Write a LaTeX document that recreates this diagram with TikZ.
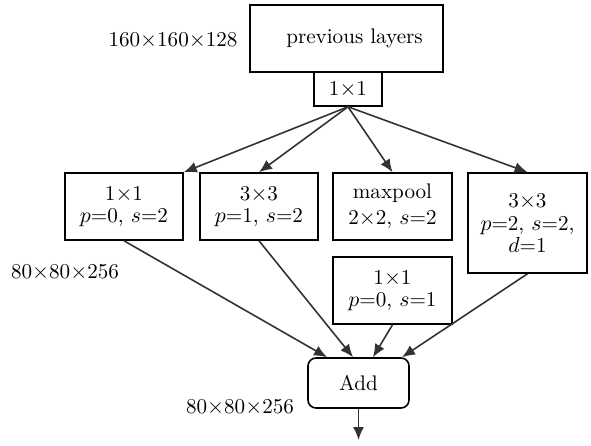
\documentclass[tikz,border=0pt]{standalone}
\usetikzlibrary{arrows.meta}

\tikzset{
  layer/.style={draw,line width=.8pt,align=center,inner sep=1pt,
    font=\fontsize{10.6}{11.2}\selectfont},
  flow/.style={-{Latex[length=6.5pt,width=5.5pt]},line width=.8pt,draw=black!80}
}

\begin{document}
\begin{tikzpicture}[x=0.5bp,y=-0.5bp]
\useasboundingbox (0,0) rectangle (591,446);
\node[layer,minimum width=96.5bp,minimum height=33.5bp] (prev) at (346.5,38.5) {\hspace*{8bp}previous layers};
\node[layer,minimum width=34bp,minimum height=17bp] (conv) at (348,89) {1$\times$1};
\node[layer,minimum width=59bp,minimum height=33.5bp] (b1) at (124,206.5) {1$\times$1\\$p$=0, $s$=2};
\node[layer,minimum width=59bp,minimum height=33.5bp] (b2) at (259,206.5) {3$\times$3\\$p$=1, $s$=2};
\node[layer,minimum width=59.5bp,minimum height=33.5bp] (b3) at (392.5,206.5) {maxpool\\[2pt]2$\times$2, $s$=2};
\node[layer,minimum width=59.5bp,minimum height=50bp] (b4) at (527.5,223) {3$\times$3\\$p$=2, $s$=2,\\$d$=1};
\node[layer,minimum width=59.5bp,minimum height=33.5bp] (b5) at (392.5,290.5) {1$\times$1\\$p$=0, $s$=1};
\node[layer,rounded corners=4pt,minimum width=50.5bp,minimum height=25bp] (add) at (358.5,383) {Add};
\coordinate (out) at (358.5,440);
% feature map sizes
\node[font=\fontsize{10.6}{12}\selectfont] (in size) at (173,40) {160$\times$160$\times$128};
\node[font=\fontsize{10.6}{12}\selectfont] (mid size) at (65,272) {80$\times$80$\times$256};
\node[font=\fontsize{10.6}{12}\selectfont] (out size) at (240,407) {80$\times$80$\times$256};
% branches
\draw[flow] (conv.south) -- (b1.north east);
\foreach \b in {b2,b3,b4}
  \draw[flow] (conv.south) -- (\b.north);
\foreach \b/\s in {b1/-15.75, b2/-2.75, b5/7.25, b4/21.75}
  \draw[flow] (\b.south) -- ([xshift=\s bp]add.north);
\draw[flow] (add.south) -- (out);
\end{tikzpicture}
\end{document}
